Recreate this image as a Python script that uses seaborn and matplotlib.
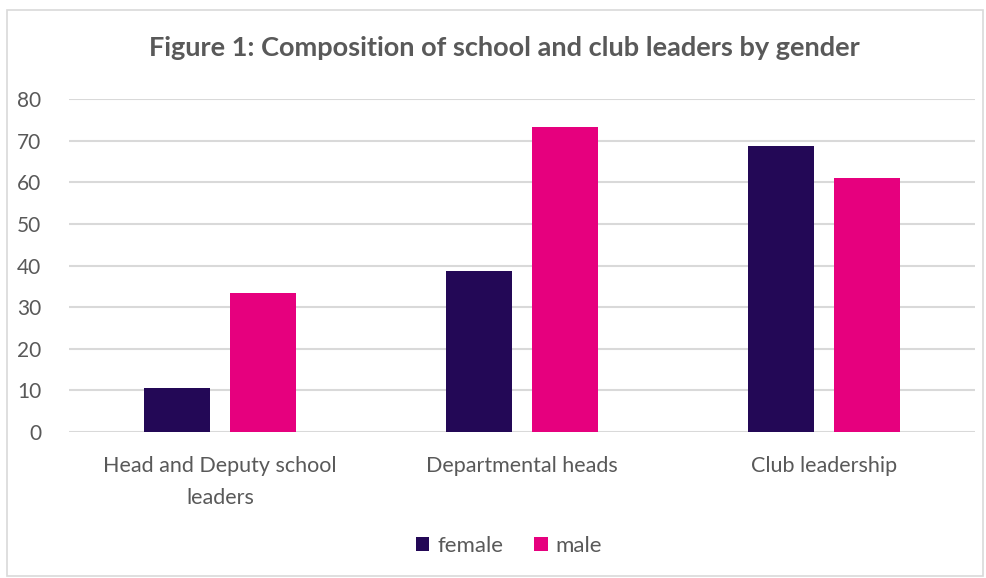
import matplotlib
matplotlib.use("Agg")
import matplotlib.pyplot as plt
import seaborn as sns
import pandas as pd
from matplotlib.patches import Rectangle

categories = ["Head and Deputy school\nleaders", "Departmental heads", "Club leadership"]
female = [10.5, 38.6, 68.7]
male = [33.5, 73.2, 61.0]
series = ["female", "male"]
colors = {"female": "#230856", "male": "#E6007E"}
yticks = [0, 10, 20, 30, 40, 50, 60, 70, 80]

df = pd.DataFrame({
    "category": categories * 2,
    "gender": ["female"] * 3 + ["male"] * 3,
    "value": female + male,
})

sns.set_theme(style="white")
plt.rcParams["font.family"] = ["Lato", "DejaVu Sans"]
txt = "#595959"

fig = plt.figure(figsize=(9.87, 5.78), dpi=100)
ax = fig.add_axes([69/987, 1-432/578, (975-69)/987, (432-99)/578])

sns.barplot(data=df, x="category", y="value", hue="gender", hue_order=series,
            palette=colors, width=0.57, gap=0.23, ax=ax, saturation=1,
            linewidth=0, zorder=3)

ax.set_ylim(0, 80)
ax.set_yticks(yticks)
ax.set_xlim(-0.5, 2.5)
ax.yaxis.grid(True, color="#D9D9D9", linewidth=1.5, zorder=0)
ax.set_axisbelow(True)
for s in ax.spines.values():
    s.set_visible(False)
ax.set_xlabel("")
ax.set_ylabel("")
ax.tick_params(axis="y", length=0, pad=20, labelsize=15, labelcolor=txt)
ax.tick_params(axis="x", length=0, pad=17, labelsize=15.5, labelcolor=txt)
for lab in ax.get_xticklabels():
    lab.set_linespacing(1.75)

fig.text(504/987, 1-48/578, "Figure 1: Composition of school and club leaders by gender",
         ha="center", va="center", fontsize=19.5, fontweight="bold", color=txt)

handles, labels = ax.get_legend_handles_labels()
ax.get_legend().remove()
fig.legend(handles, labels, loc="center", bbox_to_anchor=(509/987, 1-546/578), ncol=2,
           frameon=False, fontsize=16, labelcolor=txt, handlelength=0.6,
           handleheight=0.6, handletextpad=0.35, columnspacing=1.4)

fig.patches.append(Rectangle((7/987, 2/578), 976/987, 566/578, transform=fig.transFigure,
                             fill=False, edgecolor="#D9D9D9", linewidth=1.2))

fig.savefig("out.png", dpi=100)
